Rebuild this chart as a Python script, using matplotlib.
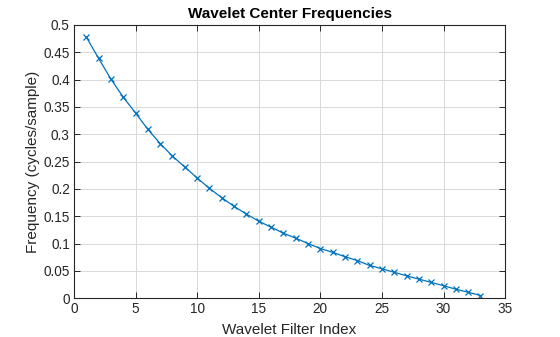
import matplotlib
matplotlib.use("Agg")
import matplotlib.pyplot as plt

# Wavelet filter index and center frequencies (cycles/sample)
filter_index = list(range(1, 34))
center_freq = [
    0.478, 0.439, 0.401, 0.368, 0.339, 0.309, 0.283, 0.260, 0.240, 0.220,
    0.201, 0.184, 0.168, 0.154, 0.141, 0.130, 0.119, 0.110, 0.100, 0.091,
    0.084, 0.076, 0.069, 0.060, 0.054, 0.0475, 0.041, 0.035, 0.029, 0.023,
    0.0165, 0.011, 0.005,
]

x_ticks = [0, 5, 10, 15, 20, 25, 30, 35]
y_ticks = [0, 0.05, 0.1, 0.15, 0.2, 0.25, 0.3, 0.35, 0.4, 0.45, 0.5]
y_tick_labels = ["0", "0.05", "0.1", "0.15", "0.2", "0.25", "0.3", "0.35", "0.4", "0.45", "0.5"]

plt.rcParams["font.family"] = ["Liberation Sans", "DejaVu Sans"]
axis_col = "#262626"

fig = plt.figure(figsize=(5.6, 3.37), dpi=100)
ax = fig.add_axes([0.132, 0.115, 0.770, 0.811])

ax.plot(filter_index, center_freq, color="#0072BD", linewidth=0.9,
        marker="x", markersize=5, markeredgewidth=0.9)

ax.set_xlim(0, 35)
ax.set_ylim(0, 0.5)
ax.set_xticks(x_ticks)
ax.set_yticks(y_ticks)
ax.set_yticklabels(y_tick_labels)

ax.grid(True, color="#d9d9d9", linewidth=0.7)
ax.set_axisbelow(True)
ax.tick_params(direction="in", top=True, right=True, length=4, width=0.7,
               colors=axis_col, labelsize=9.8, pad=3)
for s in ax.spines.values():
    s.set_color(axis_col)
    s.set_linewidth(0.8)

ax.set_xlabel("Wavelet Filter Index", fontsize=11, color=axis_col, labelpad=5)
ax.set_ylabel("Frequency (cycles/sample)", fontsize=11, color=axis_col, labelpad=2)
ax.set_title("Wavelet Center Frequencies", fontsize=11, fontweight="bold",
             color="#000000", pad=5)

fig.savefig("out.png", dpi=100, facecolor="white")
